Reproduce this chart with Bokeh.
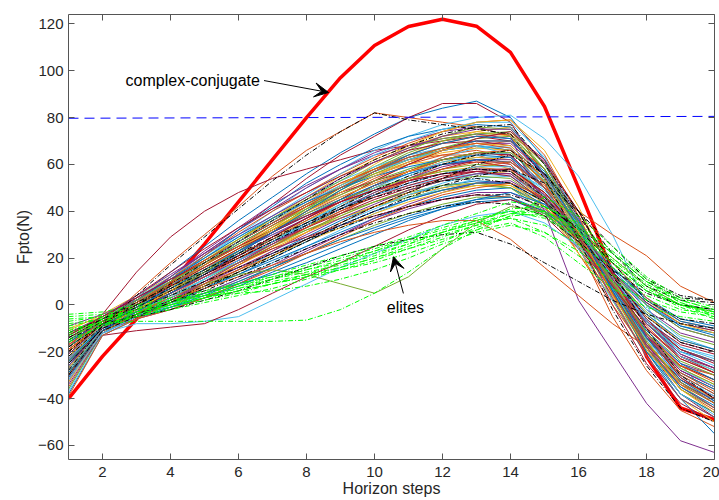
from bokeh.plotting import figure
from bokeh.models import Range1d, LinearAxis, FixedTicker, Arrow, VeeHead, Label
from bokeh.embed import file_html
from bokeh.resources import INLINE

# ---------------- data ----------------
steps = list(range(1, 21))

population = [
    [-30, -8, 5, 18, 30, 42, 55, 66, 74, 82, 80, 78, 76, 72, 52, 25, -5, -28, -45, -52],
    [-25, -9, 3, 14, 25, 36, 46, 56, 65, 73, 80, 84, 87, 80, 62, 35, 5, -20, -40, -55],
    [-22, -10, 2, 12, 22, 32, 43, 54, 64, 72, 80, 86, 86, 78, 55, 28, 0, -25, -42, -50],
    [-18, -4, 14, 29, 40, 48, 54, 58, 62, 66, 68, 70, 72, 70, 58, 35, 8, -18, -38, -48],
    [-28, -10, 0, 10, 20, 30, 40, 50, 58, 66, 72, 77, 80, 81, 71, 55, 30, 0, -25, -42],
    [-33, -9, 1, 12, 22, 32, 41, 50, 58, 65, 70, 74, 76, 72, 40, 2, -20, -42, -58, -63],
    [-12, -6, 2, 10, 18, 27, 36, 44, 52, 58, 63, 66, 68, 66, 50, 40, 30, 21, 8, 1],
    [-20, -7, -2, 5, 13, 22, 31, 40, 49, 57, 64, 70, 74, 76, 60, 38, 10, -15, -35, -44],
    [-26, -11, -3, 6, 15, 24, 33, 42, 51, 59, 66, 72, 76, 75, 58, 30, 2, -22, -40, -48],
    [-15, -8, 0, 8, 17, 26, 34, 42, 50, 57, 62, 66, 68, 66, 50, 28, 6, -14, -30, -38],
    [-35, -12, -4, 5, 14, 23, 32, 40, 47, 54, 60, 64, 66, 63, 45, 22, 0, -20, -34, -40],
    [-10, -5, 3, 11, 19, 27, 35, 43, 50, 56, 60, 62, 62, 58, 42, 22, 3, -14, -26, -32],
    [-24, -9, -1, 7, 15, 23, 31, 39, 46, 52, 57, 60, 62, 60, 46, 26, 6, -12, -25, -30],
    [-30, -11, -5, 2, 9, 17, 25, 33, 41, 48, 54, 58, 60, 59, 48, 30, 10, -8, -22, -28],
    [-14, -7, 1, 9, 16, 23, 30, 36, 42, 47, 51, 54, 56, 55, 44, 28, 10, -6, -18, -22],
    [-20, -8, -2, 5, 12, 19, 26, 33, 40, 46, 51, 55, 57, 56, 45, 28, 8, -10, -22, -27],
    [-38, -13, -6, 1, 8, 15, 22, 29, 36, 42, 47, 51, 53, 52, 42, 26, 8, -8, -20, -24],
    [-17, -6, 2, 10, 19, 28, 37, 45, 52, 58, 62, 64, 64, 60, 44, 24, 4, -14, -28, -35],
    [-22, -8, -3, 3, 10, 17, 24, 31, 38, 44, 49, 53, 56, 57, 48, 32, 14, -4, -16, -20],
    [-27, -10, -4, 3, 10, 16, 22, 28, 34, 40, 45, 49, 52, 52, 44, 30, 14, -2, -12, -16],
    [-12, -5, 2, 8, 14, 20, 26, 32, 37, 42, 46, 49, 51, 50, 42, 28, 12, -3, -13, -17],
    [-32, -12, -6, -1, 5, 11, 18, 25, 32, 39, 45, 50, 54, 55, 46, 30, 12, -6, -18, -23],
    [-19, -8, -1, 6, 13, 20, 27, 34, 41, 47, 53, 58, 62, 63, 52, 34, 12, -8, -22, -29],
    [-25, -9, -4, 2, 8, 13, 19, 25, 31, 37, 42, 46, 49, 50, 43, 30, 15, 1, -9, -13],
    [-16, -7, 0, 7, 14, 21, 29, 37, 45, 53, 60, 66, 70, 70, 56, 34, 8, -16, -32, -40],
    [-29, -10, -3, 5, 13, 21, 29, 36, 43, 49, 54, 57, 59, 57, 44, 26, 6, -12, -26, -32],
    [-21, -9, -5, 0, 5, 11, 17, 24, 30, 36, 41, 45, 48, 48, 41, 28, 14, 0, -10, -14],
    [-13, -6, 1, 8, 15, 22, 28, 34, 39, 44, 48, 51, 52, 50, 40, 25, 8, -8, -19, -24],
    [-36, -12, -5, 3, 11, 19, 27, 35, 43, 51, 58, 63, 67, 68, 55, 33, 8, -16, -32, -40],
    [-23, -9, -2, 5, 12, 18, 24, 29, 34, 38, 42, 45, 47, 46, 38, 24, 8, -7, -17, -21],
    [-18, -8, -4, -1, 3, 8, 14, 20, 26, 32, 37, 41, 44, 45, 39, 27, 13, 0, -9, -12],
    [-26, -11, -5, 1, 8, 15, 23, 31, 39, 47, 54, 60, 64, 65, 53, 32, 8, -14, -29, -36],
    [-11, -4, 4, 12, 20, 28, 36, 43, 50, 56, 61, 65, 67, 66, 52, 30, 6, -16, -32, -40],
    [-31, -11, -6, -2, 3, 9, 16, 23, 30, 37, 43, 48, 52, 53, 45, 30, 12, -5, -16, -20],
    [-22, -12, -8, -8, -7, -5, 2, 9, 16, 22, 28, 34, 38, 40, 35, 25, 12, 0, -8, -11],
    [-24, -10, -5, 0, 5, 10, 16, 22, 28, 34, 39, 43, 46, 46, 39, 27, 13, 0, -10, -14],
    [-30, -13, -11, -9.5, -8, -2, 5, 12, 18, 25, 32, 38, 43, 45, 40, 28, 14, 1, -8, -11],
    [-15, -6, 3, 12, 21, 30, 38, 46, 53, 59, 64, 67, 68, 64, 46, 24, 2, -18, -34, -42],
    [-28, -10, -4, 3, 10, 18, 26, 34, 42, 50, 57, 63, 68, 70, 58, 36, 10, -14, -30, -38],
    [-17, -7, 0, 6, 12, 18, 25, 31, 37, 42, 47, 50, 52, 51, 42, 27, 10, -5, -15, -19],
    [-21, -8, -1, 6, 14, 22, 31, 40, 48, 55, 61, 66, 69, 69, 56, 34, 10, -12, -28, -35],
    [-30, -11, -6, -1, 4, 10, 16, 22, 28, 33, 38, 42, 45, 46, 40, 29, 16, 3, -6, -9],
    [-13, -5, 3, 11, 19, 27, 35, 42, 48, 53, 57, 60, 61, 59, 47, 28, 6, -13, -26, -32],
    [-26, -9, -3, 4, 11, 18, 25, 32, 38, 44, 49, 53, 55, 54, 44, 28, 10, -7, -19, -24],
    [-37, -13, -6, 0, 7, 14, 21, 28, 35, 41, 47, 52, 56, 58, 50, 35, 16, -2, -14, -19],
    [-19, -8, -3, 3, 9, 15, 21, 28, 35, 42, 48, 54, 59, 61, 51, 33, 11, -9, -23, -29],
    [-22, -9, -4, 2, 8, 14, 21, 27, 33, 39, 44, 48, 51, 51, 44, 31, 16, 2, -8, -12],
    [-9, -4, 2, 9, 16, 23, 30, 37, 44, 51, 57, 62, 65, 64, 50, 29, 5, -17, -33, -41],
    [-27, -10, -5, 1, 7, 13, 20, 27, 34, 40, 45, 49, 52, 52, 44, 29, 12, -4, -15, -19],
    [-16, -7, -1, 6, 13, 20, 27, 33, 39, 45, 50, 54, 57, 58, 48, 31, 11, -8, -21, -27],
    [-32, -11, -6, -2, 3, 9, 15, 22, 29, 36, 42, 47, 50, 52, 46, 33, 18, 3, -7, -10],
    [-24, -9, -2, 6, 14, 23, 32, 41, 50, 58, 65, 70, 73, 73, 58, 33, 5, -20, -38, -46],
    [-14, -6, 0, 7, 14, 21, 28, 35, 42, 49, 55, 60, 63, 63, 52, 33, 12, -8, -22, -28],
    [-29, -11, -5, 2, 9, 16, 23, 30, 37, 43, 49, 53, 56, 56, 46, 30, 11, -7, -19, -24],
    [-18, -7, -3, 1, 5, 9, 13, 18, 24, 30, 36, 41, 45, 48, 43, 31, 16, 2, -7, -10],
    [-23, -9, -2, 5, 13, 21, 29, 37, 44, 51, 57, 62, 65, 64, 50, 29, 5, -17, -32, -39],
    [-20, -8, -3, 2, 7, 12, 17, 22, 27, 31, 34, 36, 36, 28, 16, 4, -8, -18, -26, -30],
    [-14, -7, -2, 4, 9, 13, 15, 13, 9, 5, 12, 24, 35, 42, 40, 32, 20, 8, 0, -3],
    [-26, -9, 0, 10, 21, 32, 42, 52, 60, 67, 72, 75, 77, 76, 60, 34, 6, -20, -38, -46],
    [-20, -8, 1, 11, 21, 31, 40, 48, 56, 63, 69, 74, 78, 79, 64, 38, 8, -18, -36, -45],
    [-33, -12, -3, 7, 17, 27, 37, 46, 55, 62, 68, 72, 74, 72, 56, 32, 4, -22, -40, -50],
    [-17, -7, 2, 12, 23, 33, 43, 51, 58, 64, 68, 71, 73, 71, 55, 30, 3, -22, -40, -48],
    [-29, -10, -1, 9, 19, 28, 37, 45, 53, 61, 67, 71, 73, 74, 60, 36, 8, -18, -36, -44],
    [-23, -9, 1, 11, 20, 29, 38, 47, 56, 64, 70, 75, 78, 78, 63, 37, 7, -19, -38, -47],
    [-14, -6, 4, 14, 24, 33, 41, 48, 55, 61, 66, 69, 70, 68, 54, 33, 8, -16, -33, -42],
    [-31, -11, -2, 8, 18, 27, 35, 43, 50, 57, 63, 67, 70, 70, 57, 36, 10, -14, -32, -41],
    [-19, -8, 1, 10, 19, 27, 35, 43, 51, 58, 64, 69, 72, 73, 61, 40, 13, -13, -31, -40],
    [-27, -10, -2, 6, 15, 24, 33, 42, 51, 60, 68, 74, 78, 79, 66, 42, 12, -15, -34, -44],
    [-12, -5, 4, 13, 22, 30, 38, 46, 54, 61, 67, 72, 75, 75, 61, 37, 9, -17, -35, -44],
    [-36, -12, -4, 5, 14, 23, 32, 41, 49, 56, 62, 67, 71, 72, 58, 35, 9, -16, -33, -42],
    [-21, -9, 0, 9, 18, 27, 36, 44, 51, 57, 62, 66, 68, 67, 53, 32, 8, -15, -31, -39],
    [-25, -10, -3, 5, 13, 21, 29, 37, 45, 53, 60, 66, 71, 74, 62, 40, 13, -13, -31, -40],
    [-16, -7, 2, 11, 20, 29, 37, 44, 50, 55, 59, 62, 64, 63, 50, 30, 7, -14, -29, -36],
    [-30, -11, -4, 4, 12, 20, 28, 36, 44, 51, 57, 62, 65, 66, 54, 34, 10, -13, -29, -37],
    [-22, -9, 0, 9, 17, 25, 33, 40, 46, 52, 57, 61, 63, 62, 50, 31, 9, -12, -27, -34],
    [-34, -12, -5, 2, 10, 18, 26, 34, 41, 48, 54, 59, 62, 62, 50, 30, 8, -13, -28, -35],
    [-18, -7, 1, 9, 17, 25, 32, 39, 45, 50, 54, 57, 58, 57, 46, 28, 8, -11, -24, -30],
    [-28, -10, -3, 4, 11, 19, 27, 35, 43, 50, 56, 61, 64, 65, 54, 34, 10, -12, -27, -35],
    [-13, -5, 3, 11, 18, 25, 32, 38, 44, 49, 53, 56, 58, 58, 48, 32, 13, -6, -19, -25],
    [-24, -9, -1, 7, 15, 23, 31, 38, 45, 51, 56, 60, 62, 61, 50, 31, 9, -11, -25, -32],
    [-39, -13, -6, 1, 9, 17, 25, 33, 40, 47, 53, 58, 61, 61, 50, 31, 9, -12, -26, -33],
    [-20, -8, 0, 8, 16, 24, 32, 40, 48, 55, 61, 66, 69, 68, 54, 31, 5, -19, -36, -46],
    [-26, -10, -3, 5, 12, 19, 27, 34, 41, 47, 52, 56, 58, 57, 47, 30, 11, -8, -21, -27],
    [-15, -6, 2, 10, 18, 26, 34, 41, 47, 53, 58, 62, 65, 65, 53, 33, 10, -12, -27, -34],
    [-32, -12, -5, 3, 11, 19, 27, 34, 41, 47, 52, 56, 59, 59, 49, 32, 12, -7, -20, -26],
    [-21, -8, 0, 8, 16, 24, 31, 38, 44, 49, 53, 56, 57, 55, 44, 27, 8, -10, -23, -29],
    [-29, -11, -3, 5, 13, 22, 31, 40, 49, 57, 64, 69, 72, 71, 56, 33, 6, -18, -35, -43],
    [-17, -7, 1, 9, 17, 25, 34, 42, 50, 57, 63, 67, 69, 67, 52, 30, 5, -18, -34, -42],
]
population_color_idx = [1, 0, 6, 6, 5, 3, 1, 2, 4, 0, 1, 2, 3, 4, 5, 6, 0, 1, 2, 3,
                        4, 5, 6, 0, 1, 2, 3, 4, 5, 6, 0, 1, 2, 3, 5, 4, 6, 5, 1, 2,
                        3, 0, 6, 4, 5, 1, 2, 3, 0, 6, 1, 4, 5, 3, 0, 6, 1, 4,
                        0, 1, 2, 3, 4, 5, 6, 0, 1, 2, 3, 4, 5, 6, 0, 1, 2, 3, 4, 5,
                        6, 0, 1, 2, 3, 4, 5, 6, 0, 1]

marked_runs = [
    [-28, -9, 4, 17, 29, 41, 53, 64, 74, 82, 79, 77, 75, 73, 54, 28, -2, -26, -44, -50],
    [-20, -8, 0, 9, 18, 27, 36, 45, 54, 62, 68, 73, 76, 77, 60, 40, 15, -10, -30, -40],
    [-15, -7, -1, 6, 13, 20, 27, 34, 41, 47, 52, 56, 58, 57, 46, 30, 12, -5, -16, -20],
    [-22, -9, -4, 1, 6, 12, 18, 24, 30, 35, 39, 42, 44, 43, 38, 27, 15, 5, 0, -2],
    [-18, -8, -5, -2, 2, 6, 11, 16, 21, 25, 28, 30, 31, 26, 18, 10, 2, -4, -8, -10],
    [-12, -6, 0, 7, 14, 21, 28, 35, 42, 49, 55, 60, 64, 66, 56, 40, 22, 8, 2, 1],
    [-25, -10, -4, 2, 8, 14, 20, 27, 34, 40, 46, 51, 55, 58, 52, 40, 25, 11, 4, 2],
    [-30, -11, -5, 1, 7, 14, 21, 28, 35, 42, 48, 54, 60, 64, 56, 38, 18, 2, -6, -8],
    [-14, -6, 1, 8, 15, 22, 29, 35, 41, 46, 50, 53, 54, 52, 44, 32, 18, 6, 0, -2],
    [-20, -8, -2, 4, 10, 16, 22, 28, 33, 38, 42, 45, 47, 47, 42, 33, 22, 10, 3, 2],
]

elite_runs = [
    [-10, -8, -7, -7, -7, -7, -7, -6.5, -2, 5, 14, 24, 32, 35, 29, 18, 7, -1, -5, -7],
    [-5, -4, -1, 2, 5, 8, 11, 14, 17, 21, 26, 31, 35, 37, 31, 21, 10, 2, -3, -5],
    [-8, -6, -2, 2, 4, 5, 6, 8, 11, 15, 20, 26, 31, 34, 31, 23, 13, 4, -2, -4],
    [-12, -7, -3, 0, 3, 6, 9, 12, 16, 20, 25, 30, 34, 37, 34, 26, 16, 6, 0, -3],
    [-15, -9, -4, 0, 4, 8, 12, 16, 20, 24, 28, 32, 36, 40, 40, 33, 22, 10, 2, -2],
    [-6, -5, -2, 1, 4, 7, 10, 13, 16, 20, 24, 28, 32, 38, 46, 38, 25, 12, 3, -1],
    [-9, -6, -3, 1, 5, 9, 13, 17, 21, 25, 29, 34, 39, 44, 42, 34, 22, 10, 1, -3],
    [-13, -8, -5, -2, 1, 4, 7, 11, 15, 19, 24, 29, 34, 39, 40, 32, 20, 9, 1, -4],
    [-4, -3, 0, 3, 6, 9, 12, 15, 18, 22, 26, 31, 36, 41, 42, 35, 23, 11, 2, -2],
    [-11, -7, -4, -1, 2, 5, 9, 13, 18, 23, 28, 33, 37, 40, 37, 29, 18, 7, 0, -4],
    [-7, -5, -3, 0, 3, 6, 9, 12, 15, 18, 22, 27, 33, 38, 39, 31, 19, 8, 0, -5],
    [-16, -9, -5, -1, 3, 7, 11, 15, 19, 23, 27, 31, 35, 39, 38, 30, 18, 6, -1, -6],
]

complex_conjugate = [-40, -22, -6, 9, 26, 44, 62, 80, 97, 110.8, 118.9, 122, 119,
                     107.8, 84.7, 50, 14, -22, -44, -49]

limit_x = [1, 20]
limit_y = [79.7, 80.5]

x_ticks = [2, 4, 6, 8, 10, 12, 14, 16, 18, 20]
y_ticks = [-60, -40, -20, 0, 20, 40, 60, 80, 100, 120]

# ---------------- style ----------------
palette = ["#0072BD", "#D95319", "#EDB120", "#7E2F8E", "#77AC30", "#4DBEEE", "#A2142F"]
FONT = "Liberation Sans"
TXT = "#262626"
AXC = "#555555"

p = figure(width=719, height=500, output_backend="svg", toolbar_location=None,
           x_range=Range1d(1, 20), y_range=Range1d(-66, 124),
           min_border_left=68, min_border_right=5, min_border_top=14, min_border_bottom=41)
p.outline_line_color = None
p.xgrid.visible = False
p.ygrid.visible = False
p.background_fill_color = "white"
p.border_fill_color = "white"

# red curve first: the population lines cover it where they overlap
p.line(steps, complex_conjugate, line_color="#FF0000", line_width=3.5)

for run, ci in zip(population, population_color_idx):
    p.line(steps, run, line_color=palette[ci], line_width=1)

for run in marked_runs:
    p.line(steps, run, line_color="black", line_width=1, line_dash="5 2 1 2")

for run in elite_runs:
    p.line(steps, run, line_color="#00FF00", line_width=1, line_dash="5 2 1 2")

p.line(limit_x, limit_y, line_color="#0000FF", line_width=1, line_dash="10 6")

# annotations
p.add_layout(Label(x=2.68, y=95.8, text="complex-conjugate", text_font=FONT,
                   text_font_size="16px", text_color="black",
                   text_baseline="middle", text_align="left"))
p.add_layout(Arrow(x_start=6.75, y_start=95.8, x_end=8.65, y_end=90.7,
                   line_color="black", line_width=1,
                   end=VeeHead(size=14, fill_color="black", line_color="black")))
p.add_layout(Label(x=10.91, y=-1.0, text="elites", text_font=FONT,
                   text_font_size="16px", text_color="black",
                   text_baseline="middle", text_align="center"))
p.add_layout(Arrow(x_start=10.85, y_start=4.9, x_end=10.56, y_end=20.6,
                   line_color="black", line_width=1,
                   end=VeeHead(size=14, fill_color="black", line_color="black")))

# axes
def style_axis(ax, ticks, labels=True):
    ax.ticker = FixedTicker(ticks=ticks)
    ax.axis_line_color = AXC
    ax.axis_line_width = 1
    ax.major_tick_line_color = AXC
    ax.major_tick_in = 6
    ax.major_tick_out = 0
    ax.minor_tick_line_color = None
    if labels:
        ax.major_label_text_font = FONT
        ax.major_label_text_font_size = "15px"
        ax.major_label_text_color = TXT
    else:
        ax.major_label_overrides = {t: "" for t in ticks}
        ax.major_label_text_font_size = "1px"
        ax.major_label_text_color = None
        ax.major_label_standoff = 0

style_axis(p.xaxis[0], x_ticks)
style_axis(p.yaxis[0], y_ticks)
p.xaxis.major_label_standoff = 7
p.yaxis.major_label_standoff = 5
p.xaxis.axis_label = "Horizon steps"
p.yaxis.axis_label = "Fpto(N)"
for ax in (p.xaxis[0], p.yaxis[0]):
    ax.axis_label_text_font = FONT
    ax.axis_label_text_font_size = "16px"
    ax.axis_label_text_font_style = "normal"
    ax.axis_label_text_color = TXT
p.xaxis.axis_label_standoff = 0
p.yaxis.axis_label_standoff = 3

top = LinearAxis()
right = LinearAxis()
style_axis(top, x_ticks, labels=False)
style_axis(right, y_ticks, labels=False)
p.add_layout(top, "above")
p.add_layout(right, "right")

open("out.html", "w").write(file_html(p, INLINE))
